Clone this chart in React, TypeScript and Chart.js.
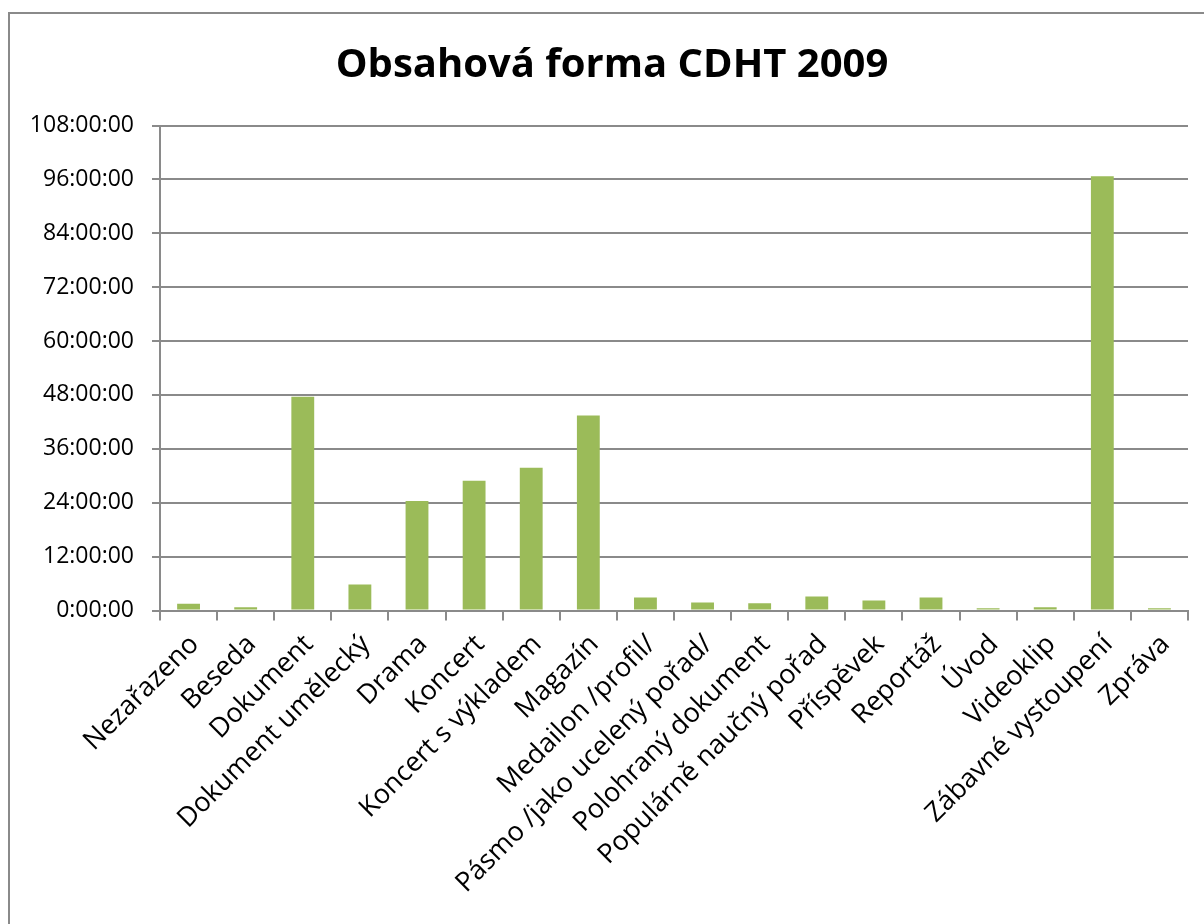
import React, { useEffect, useRef } from "react";
import { Chart, registerables } from "chart.js";

Chart.register(...registerables);

const categories: string[] = [
  "Nezařazeno",
  "Beseda",
  "Dokument",
  "Dokument umělecký",
  "Drama",
  "Koncert",
  "Koncert s výkladem",
  "Magazín",
  "Medailon /profil/",
  "Pásmo /jako ucelený pořad/",
  "Polohraný dokument",
  "Populárně naučný pořad",
  "Příspěvek",
  "Reportáž",
  "Úvod",
  "Videoklip",
  "Zábavné vystoupení",
  "Zpráva",
];

// durations in hours
const hours: number[] = [
  1.5, 0.7, 47.6, 5.8, 24.4, 28.9, 31.8, 43.4, 2.9, 1.8, 1.6, 3.1, 2.2, 2.9, 0.5, 0.7, 96.7, 0.5,
];

const yMin = 0;
const yMax = 108;
const yStep = 12;

const titleText = "Obsahová forma CDHT 2009";

const W = 1204;
const H = 924;

const titlePlugin = {
  id: "customTitle",
  afterDraw(chart: any) {
    const ctx = chart.ctx;
    ctx.save();
    ctx.fillStyle = "#000";
    ctx.font = "bold 40px 'Open Sans'";
    ctx.textAlign = "center";
    ctx.textBaseline = "alphabetic";
    ctx.fillText(titleText, 612, 77);
    ctx.restore();
  },
};

export default function App() {
  const ref = useRef<HTMLCanvasElement>(null);

  useEffect(() => {
    if (!ref.current) return;
    const grey = "#8a8a8a";
    const chart = new Chart(ref.current, {
      type: "bar",
      data: {
        labels: categories,
        datasets: [
          {
            data: hours,
            backgroundColor: "#9BBB59",
            borderWidth: 0,
            barPercentage: 0.4,
            categoryPercentage: 1,
          },
        ],
      },
      options: {
        responsive: false,
        animation: false,
        devicePixelRatio: 1,
        layout: { padding: { left: 0, right: 16, top: 125.5, bottom: 0 } },
        plugins: {
          legend: { display: false },
          tooltip: { enabled: false },
          title: { display: false },
        },
        scales: {
          x: {
            offset: true,
            grid: {
              offset: true,
              drawOnChartArea: false,
              drawTicks: true,
              tickLength: 10,
              color: grey,
              lineWidth: 2,
            },
            border: { color: grey, width: 2 },
            ticks: {
              color: "#000",
              font: { family: "Open Sans", size: 27 },
              minRotation: 45,
              maxRotation: 45,
              autoSkip: false,
              padding: 8,
              labelOffset: 6,
            },
            afterFit: (s: any) => {
              s.height = H - 610.5;
            },
          },
          y: {
            min: yMin,
            max: yMax,
            ticks: {
              stepSize: yStep,
              color: "#000",
              font: { family: "Open Sans", size: 23 },
              padding: 18,
              callback: (v: any) => `${v}:00:00`,
            },
            grid: { color: grey, lineWidth: 2, tickLength: 8 },
            border: { color: grey, width: 2 },
            afterFit: (s: any) => {
              s.width = 160;
            },
          },
        },
      },
      plugins: [titlePlugin],
    } as any);
    return () => chart.destroy();
  }, []);

  return (
    <div
      style={{
        position: "absolute",
        left: 0,
        top: 0,
        width: W,
        height: H,
        overflow: "hidden",
        background: "#fff",
      }}
    >
      <div
        style={{
          position: "absolute",
          left: 8,
          top: 12,
          width: 1400,
          height: 1200,
          borderTop: "2px solid #8a8a8a",
          borderLeft: "2px solid #8a8a8a",
        }}
      />
      <canvas
        ref={ref}
        width={W}
        height={H}
        style={{ position: "absolute", left: 0, top: 0, width: W, height: H }}
      />
    </div>
  );
}
